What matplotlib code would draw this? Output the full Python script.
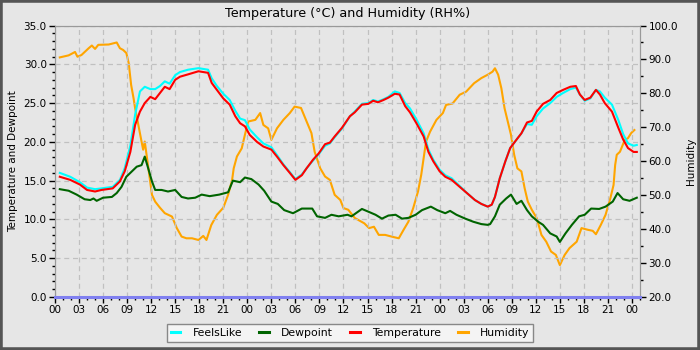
import matplotlib
matplotlib.use("Agg")
import matplotlib.pyplot as plt
import numpy as np
from matplotlib.ticker import MultipleLocator, FormatStrFormatter, FuncFormatter
from matplotlib.patches import Rectangle

# ---- data (hours since start of first day) ----
temp_hours = [0.6, 1.9, 3.1, 4.0, 5.0, 5.8, 7.2, 8.1, 8.7, 9.4, 10.0, 10.6, 11.2, 11.9, 12.5, 13.1,
              13.7, 14.3, 15.0, 15.6, 16.6, 17.9, 19.1, 19.55, 20.2, 21.0, 21.8, 22.5, 23.1, 23.7,
              24.3, 25.2, 26.0, 27.0, 27.7, 28.5, 29.3, 30.0, 30.8, 31.4, 32.2, 32.9, 33.7, 34.3,
              34.9, 35.8, 36.8, 37.4, 38.3, 39.1, 39.7, 40.3, 41.0, 41.6, 42.4, 43.0, 43.7, 44.3,
              45.1, 46.0, 46.6, 47.2, 48.0, 48.7, 49.5, 50.5, 51.4, 52.4, 53.2, 54.0, 54.5, 54.9,
              55.5, 56.2, 56.8, 57.6, 58.2, 58.9, 59.5, 60.1, 60.9, 61.8, 62.6, 63.4, 64.3, 65.0,
              65.5, 66.1, 66.8, 67.5, 68.0, 68.6, 69.5, 70.3, 70.9, 71.5, 72.2, 72.6]
temperature = [15.5, 15.1, 14.5, 13.8, 13.6, 13.8, 14.0, 14.9, 16.2, 18.7, 22.2, 23.9, 25.0, 25.8, 25.5, 26.3,
               27.1, 26.8, 28.0, 28.4, 28.7, 29.1, 28.9, 27.6, 26.7, 25.6, 24.8, 23.3, 22.4, 22.0,
               20.9, 20.0, 19.4, 19.0, 18.1, 17.0, 16.0, 15.1, 15.7, 16.6, 17.7, 18.5, 19.7, 19.9,
               20.7, 21.8, 23.3, 23.8, 24.8, 24.9, 25.3, 25.1, 25.4, 25.7, 26.2, 26.1, 24.6, 23.8,
               22.4, 20.7, 18.7, 17.5, 16.2, 15.5, 15.1, 14.2, 13.4, 12.5, 12.0, 11.65, 11.9, 12.9,
               15.3, 17.5, 19.2, 20.3, 21.1, 22.5, 22.7, 23.9, 24.9, 25.4, 26.3, 26.7, 27.1, 27.2,
               26.1, 25.4, 25.7, 26.7, 26.1, 25.0, 23.9, 21.8, 20.3, 19.2, 18.7, 18.7]
feelslike = [16.0, 15.5, 14.8, 14.1, 13.9, 14.0, 14.2, 15.1, 16.6, 19.5, 23.5, 26.5, 27.1, 26.8, 26.8, 27.2,
             27.8, 27.5, 28.6, 29.0, 29.3, 29.5, 29.3, 28.2, 27.2, 26.2, 25.4, 24.0, 23.0, 22.8,
             21.6, 20.6, 19.8, 19.3, 18.3, 17.1, 16.1, 15.2, 15.8, 16.6, 17.6, 18.4, 19.5, 19.8,
             20.6, 21.7, 23.3, 23.9, 24.9, 25.0, 25.4, 25.2, 25.5, 25.8, 26.5, 26.3, 25.0, 24.3,
             22.9, 21.1, 19.0, 17.7, 16.4, 15.7, 15.3, 14.3, 13.4, 12.5, 12.0, 11.65, 11.9, 12.9,
             15.3, 17.5, 19.2, 20.3, 21.1, 22.3, 22.2, 23.3, 24.3, 25.0, 25.8, 26.3, 26.8, 27.0,
             26.1, 25.3, 25.6, 26.7, 26.5, 25.7, 24.8, 22.8, 21.0, 19.8, 19.5, 19.6]

dew_hours = [0.6, 1.7, 2.7, 3.7, 4.4, 4.8, 5.2, 6.0, 7.1, 7.7, 8.3, 8.9, 9.6, 10.2, 10.8, 11.2, 11.6,
             12.1, 12.5, 13.3, 14.1, 15.0, 15.8, 16.6, 17.5, 18.3, 19.3, 20.5, 21.6, 22.2, 23.1,
             23.7, 24.5, 25.4, 26.1, 27.0, 27.8, 28.6, 29.7, 30.8, 32.1, 32.7, 33.7, 34.5, 35.4,
             36.5, 37.0, 38.3, 39.1, 40.0, 40.8, 41.6, 42.5, 43.3, 44.1, 45.0, 45.8, 46.9, 47.7,
             48.7, 49.3, 50.1, 51.2, 52.2, 53.2, 54.0, 54.3, 54.9, 55.5, 56.3, 56.9, 57.6, 58.2,
             58.9, 59.5, 60.3, 60.9, 61.8, 62.6, 63.0, 63.7, 64.5, 65.4, 66.1, 66.9, 67.9, 68.7,
             69.6, 70.2, 70.9, 71.7, 72.6]
dewpoint = [13.9, 13.7, 13.2, 12.6, 12.5, 12.7, 12.4, 12.8, 12.9, 13.4, 14.2, 15.5, 16.2, 16.8, 17.0, 18.1, 16.7,
            14.9, 13.8, 13.8, 13.6, 13.8, 12.9, 12.7, 12.8, 13.2, 13.0, 13.2, 13.5, 15.0, 14.8,
            15.4, 15.2, 14.5, 13.7, 12.3, 12.0, 11.2, 10.8, 11.4, 11.4, 10.4, 10.2, 10.6, 10.4,
            10.6, 10.4, 11.35, 11.0, 10.6, 10.1, 10.5, 10.6, 10.1, 10.2, 10.6, 11.2, 11.65, 11.2,
            10.8, 11.1, 10.6, 10.1, 9.7, 9.4, 9.3, 9.4, 10.4, 11.9, 12.7, 13.2, 12.0, 12.4,
            11.2, 10.4, 9.7, 9.3, 8.2, 7.8, 7.1, 8.2, 9.3, 10.4, 10.6, 11.4, 11.35, 11.65,
            12.3, 13.4, 12.6, 12.4, 12.8]

hum_hours = [0.6, 1.7, 2.5, 2.8, 3.3, 4.2, 4.6, 5.0, 5.4, 6.7, 7.7, 8.1, 8.5, 8.9, 9.2, 9.5, 9.8, 10.0,
             10.4, 10.8, 11.0, 11.2, 11.6, 12.1, 12.5, 13.1, 13.7, 14.6, 15.2, 15.8, 16.4, 17.1,
             17.9, 18.5, 18.9, 19.5, 20.2, 21.0, 21.6, 22.1, 22.3, 22.7, 23.3, 23.7, 24.1, 25.0,
             25.6, 26.0, 26.6, 27.0, 27.7, 28.5, 29.3, 29.9, 30.7, 31.4, 32.0, 32.4, 33.1, 33.7,
             34.3, 34.9, 35.6, 36.0, 36.6, 37.4, 38.6, 39.2, 39.8, 40.4, 41.2, 42.0, 42.9, 43.5,
             44.1, 44.7, 45.3, 45.7, 46.0, 46.3, 46.8, 47.6, 48.4, 48.8, 49.6, 50.5, 51.3, 52.3,
             53.2, 54.0, 54.6, 54.9, 55.3, 55.7, 56.1, 56.5, 56.9, 57.3, 57.7, 58.2, 58.6, 59.0,
             59.5, 60.1, 60.7, 61.3, 61.9, 62.5, 63.0, 63.6, 64.2, 65.1, 65.7, 66.5, 67.1, 67.5,
             68.1, 68.7, 69.3, 69.7, 69.9, 70.1, 70.5, 71.1, 71.5, 71.9, 72.3]
humidity = [90.6, 91.2, 92.2, 90.8, 91.3, 93.3, 94.1, 93.1, 94.3, 94.4, 95.0, 93.3, 92.8, 91.9, 88.9, 82.5, 78.6, 75.6,
            70.7, 65.8, 63.4, 65.8, 58.9, 50.1, 48.1, 46.3, 44.7, 43.7, 40.3, 37.8, 37.3, 37.3,
            36.8, 38.0, 36.8, 41.2, 44.2, 46.3, 50.1, 54.5, 57.9, 61.4, 63.8, 67.8, 71.7, 72.2,
            74.2, 70.7, 69.7, 66.3, 69.7, 72.2, 74.2, 76.1, 75.7, 71.7, 68.3, 62.8, 57.9, 55.5,
            54.5, 50.1, 48.6, 46.2, 45.7, 43.3, 41.7, 40.3, 40.7, 38.3, 38.3, 37.8, 37.3, 39.8,
            42.2, 46.2, 51.1, 56.0, 60.9, 65.8, 68.7, 72.2, 74.2, 76.6, 77.0, 79.6, 80.5, 83.0,
            84.5, 85.5, 86.4, 87.4, 85.5, 81.5, 75.6, 71.7, 67.8, 61.9, 57.9, 57.0, 52.1, 48.1,
            45.7, 43.3, 38.3, 36.3, 33.4, 32.4, 29.4, 32.4, 34.4, 36.3, 40.3, 39.8, 39.5, 38.5,
            41.2, 44.2, 49.1, 53.0, 58.9, 61.9, 62.8, 66.3, 66.8, 68.3, 69.2]

series_names = ["FeelsLike", "Dewpoint", "Temperature", "Humidity"]

# ---- styling ----
BG = "#e6e6e6"
C_FEELS = "#00ffff"
C_DEW = "#006400"
C_TEMP = "#ff0000"
C_HUM = "#ffa500"

fig = plt.figure(figsize=(7, 3.5), dpi=100, facecolor=BG)
ax = fig.add_axes([55/700, 53/350, 585/700, 271.5/350])
ax.set_facecolor(BG)
ax2 = ax.twinx()

lw = 1.5
l1, = ax.plot(temp_hours, feelslike, color=C_FEELS, lw=lw, zorder=3)
l2, = ax.plot(dew_hours, dewpoint, color=C_DEW, lw=lw, zorder=3)
l3, = ax.plot(temp_hours, temperature, color=C_TEMP, lw=lw, zorder=4)
l4, = ax2.plot(hum_hours, humidity, color=C_HUM, lw=lw, zorder=3)
ax.axhline(0, color="#8080f0", lw=2.2, zorder=5, clip_on=False)

ax.set_zorder(ax2.get_zorder() + 1)
ax.patch.set_visible(False)
ax2.set_facecolor(BG)

ax.set_xlim(0, 73)
ax.set_ylim(0, 35)
ax2.set_ylim(20, 100)

ax.xaxis.set_major_locator(MultipleLocator(3))
ax.xaxis.set_minor_locator(MultipleLocator(1))
ax.xaxis.set_major_formatter(FuncFormatter(lambda v, p: "%02d" % (int(round(v)) % 24)))
ax.yaxis.set_major_locator(MultipleLocator(5))
ax.yaxis.set_minor_locator(MultipleLocator(1))
ax.yaxis.set_major_formatter(FormatStrFormatter("%.1f"))
ax2.yaxis.set_major_locator(MultipleLocator(10))
ax2.yaxis.set_minor_locator(MultipleLocator(5))
ax2.yaxis.set_major_formatter(FormatStrFormatter("%.1f"))

for a in (ax, ax2):
    a.tick_params(which="major", length=4, width=1, labelsize=7.5, color="black", pad=2)
    a.tick_params(which="minor", length=2, width=1, color="black")
    for s in a.spines.values():
        s.set_color("#999999")

ax.grid(True, which="major", color="#c0c0c0", linestyle=(0, (4, 3)), lw=0.9)
ax.set_axisbelow(True)

ax.set_title("Temperature (°C) and Humidity (RH%)", fontsize=9.2, pad=6)
ax.set_ylabel("Temperature and Dewpoint", fontsize=7.5, labelpad=4)
ax2.set_ylabel("Humidity", fontsize=7.5, labelpad=6)

leg = fig.legend([l1, l2, l3, l4], series_names, loc="upper center",
                 bbox_to_anchor=(0.5, 26/350), ncol=4, fontsize=7.8,
                 frameon=True, fancybox=False, handlelength=0.9, handletextpad=1.1,
                 columnspacing=1.6, borderpad=0.35, borderaxespad=0)
leg.get_frame().set_facecolor("#f4f4f4")
leg.get_frame().set_edgecolor("#888888")
leg.get_frame().set_alpha(1)
for h in leg.get_lines():
    h.set_linewidth(2.2)

fig.patches.append(Rectangle((0, 0), 1, 1, transform=fig.transFigure, fill=False,
                             edgecolor="#555555", lw=4, zorder=10))

fig.savefig("out.png", dpi=100, facecolor=BG)
